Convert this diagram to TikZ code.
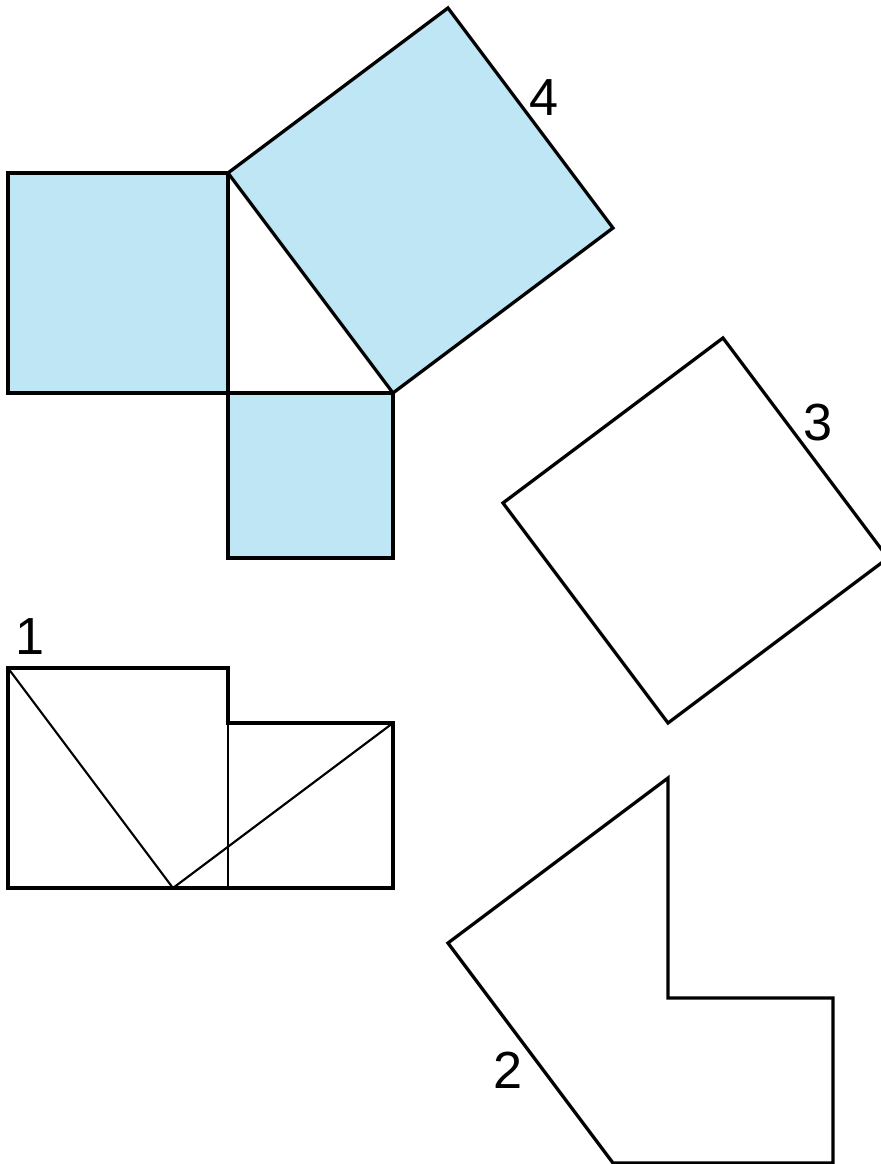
\documentclass[tikz,border=0pt]{standalone}
\usepackage{fontspec}
\setmainfont{Liberation Sans}
\definecolor{lightsky}{RGB}{190,230,244}
\tikzset{
 edge/.style={line width=1.7pt},
 thinedge/.style={line width=1.1pt},
 filled/.style={edge, fill=lightsky},
 num/.style={font=\fontsize{27}{32}\selectfont, inner sep=0pt}
}

\begin{document}
\begin{tikzpicture}

\useasboundingbox (-4.145,-14.018) rectangle (11.855,7.145);

% the three squares round the 3-4-5 triangle
\draw[filled] (-4,0) rectangle (0,4);

\draw[filled] (0,0) rectangle (3,-3);

\draw[filled] (0,4)--(3,0)--(7,3)--(4,7)--cycle;

\node[num] (four) at (5.75,5.38) {4};

% square 3
\draw[edge] (5,-2)--(9,1)--(12,-3)--(8,-6)--cycle;

\node[num] (three) at (10.73,-0.53) {3};

% piece 1
\draw[edge] (-4,-5)--(0,-5)--(0,-6)--(3,-6)--(3,-9)--(-4,-9)--cycle;

\draw[thinedge] (0,-6)--(0,-9);

\draw[thinedge] (-4,-5)--(-1,-9)--(3,-6);

\node[num] (one) at (-3.6,-4.42) {1};

% piece 2
\draw[edge] (8,-7)--(8,-11)--(11,-11)--(11,-14)--(7,-14)--(4,-10)--cycle;

\node[num] (two) at (5.09,-12.31) {2};

\end{tikzpicture}
\end{document}
